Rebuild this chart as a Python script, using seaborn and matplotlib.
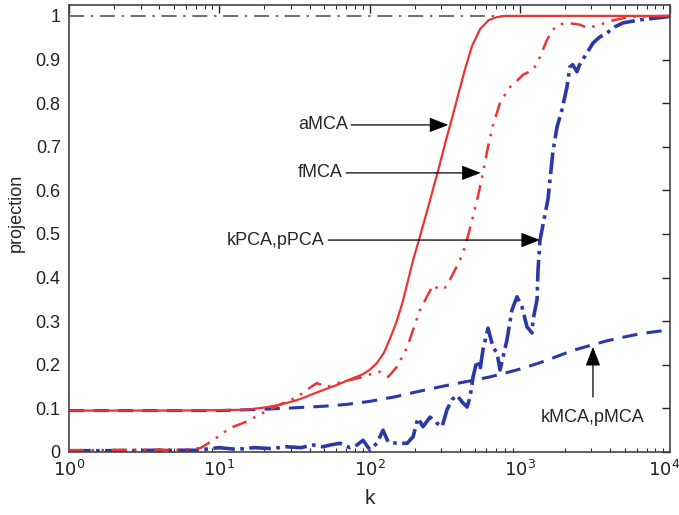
import numpy as np
import pandas as pd
import matplotlib
matplotlib.use("Agg")
import matplotlib.pyplot as plt
import matplotlib.transforms as mtransforms
import seaborn as sns
from matplotlib.ticker import LogLocator, FixedLocator, NullFormatter

# ---- data ----
amca_k = [1, 5, 10, 15, 20, 25, 30, 35, 42, 50, 60, 70, 80, 90, 100, 112, 125, 137, 150, 165, 178, 195, 217,
          245, 286, 320, 354, 390, 430, 480, 545, 620, 700, 800, 10000]
amca_v = [0.095, 0.095, 0.096, 0.097, 0.102, 0.108, 0.115, 0.122, 0.133, 0.143, 0.153, 0.163, 0.171, 0.178, 0.188,
          0.204, 0.228, 0.26, 0.295, 0.34, 0.385, 0.44, 0.495, 0.56, 0.645, 0.71, 0.765, 0.82, 0.875, 0.93, 0.97,
          0.99, 0.997, 1.0, 1.0]

fmca_k = [1, 3, 5.7, 7.5, 9.1, 11.8, 15.3, 19.6, 25, 33, 38, 44.6, 52, 61, 74, 90, 105, 117, 133, 152, 178, 195, 217,
          241, 265, 293, 317, 343, 370, 400, 432, 460, 489, 530, 569, 615, 664, 739, 800, 861, 950, 1050, 1225, 1364,
          1518, 1640, 1770, 2062, 2500, 2850, 3420, 4200, 5500, 10000]
fmca_v = [0.004, 0.005, 0.005, 0.009, 0.027, 0.055, 0.07, 0.09, 0.108, 0.126, 0.142, 0.158, 0.149, 0.158, 0.165, 0.172,
          0.18, 0.184, 0.172, 0.195, 0.24, 0.28, 0.326, 0.356, 0.383, 0.372, 0.376, 0.395, 0.417, 0.44, 0.47, 0.505,
          0.54, 0.59, 0.64, 0.7, 0.75, 0.80, 0.82, 0.837, 0.85, 0.865, 0.876, 0.906, 0.945, 0.965, 0.979, 0.984,
          0.98, 0.972, 0.98, 0.99, 0.998, 1.0]

kpca_k = [1, 2, 4, 7, 10, 13, 17, 22, 28, 35, 42, 49, 54.6, 63.6, 74, 82.6, 90.5, 100.7, 112, 123, 133, 152, 178, 195,
          210, 227, 253, 281, 304, 328, 354, 382, 413, 446, 467, 489, 519, 544, 569, 615, 664, 706, 739, 774, 822,
          888, 959, 1035, 1117, 1207, 1225, 1303, 1323, 1364, 1542, 1664, 1770, 1910, 2062, 2155, 2250, 2404,
          2500, 2800, 3075, 3420, 3810, 4300, 4870, 6330, 9600, 10000]
kpca_v = [0.003, 0.003, 0.004, 0.004, 0.01, 0.006, 0.01, 0.008, 0.012, 0.01, 0.016, 0.012, 0.016, 0.02, 0.01, 0.016,
          0.027, 0.005, 0.02, 0.05, 0.023, 0.02, 0.02, 0.035, 0.078, 0.058, 0.08, 0.066, 0.058, 0.097, 0.12, 0.13,
          0.115, 0.103, 0.126, 0.172, 0.21, 0.188, 0.234, 0.284, 0.24, 0.227, 0.188, 0.218, 0.257, 0.326, 0.356,
          0.333, 0.287, 0.273, 0.303, 0.349, 0.417, 0.486, 0.58, 0.69, 0.745, 0.785, 0.837, 0.883, 0.888, 0.872,
          0.888, 0.915, 0.938, 0.952, 0.961, 0.975, 0.984, 0.991, 0.998, 1.0]

kmca_k = [1, 10, 20, 30, 50, 70, 100, 150, 200, 300, 420, 630, 820, 1000, 1370, 1800, 2260, 3000, 3800, 5000, 6300,
          8000, 10000]
kmca_v = [0.095, 0.095, 0.098, 0.101, 0.105, 0.109, 0.116, 0.127, 0.137, 0.15, 0.16, 0.172, 0.182, 0.19, 0.205, 0.22,
          0.233, 0.245, 0.255, 0.264, 0.271, 0.276, 0.28]

ref_k = [1, 10000]
ref_v = [1.0, 1.0]

# annotations
ann_labels = ["aMCA", "fMCA", "kPCA,pPCA"]
ann_text_k = [33.4, 33.4, 11.3]
ann_tip_k = [335, 550, 1364]
ann_v = [0.75, 0.64, 0.486]

RED = "#ee3333"
BLUE = "#2b38a8"

sns.set_style("white")
plt.rcParams["font.family"] = ["Liberation Sans", "DejaVu Sans"]

fig = plt.figure(figsize=(6.79, 5.15), dpi=100)
ax = fig.add_axes([69 / 679, 1 - 452 / 515, (670 - 69) / 679, (452 - 5) / 515])

def draw(k, v, **kw):
    df = pd.DataFrame({"k": k, "v": v})
    sns.lineplot(data=df, x="k", y="v", ax=ax, estimator=None, sort=False, legend=False, **kw)

draw(ref_k, ref_v, color="#555555", lw=1.2, linestyle=(0, (9, 4, 1.5, 4)))
draw(kmca_k, kmca_v, color=BLUE, lw=2.2, linestyle=(0, (5, 3)))
draw(kpca_k, kpca_v, color=BLUE, lw=2.6, linestyle=(0, (6, 1.5, 1, 1.5)))
draw(fmca_k, fmca_v, color=RED, lw=1.8, linestyle=(0, (6, 3, 1, 3, 1, 3)))
draw(amca_k, amca_v, color=RED, lw=1.6, linestyle="-")

ax.set_xscale("log")
ax.set_xlim(1, 10000)
ax.set_ylim(0, 1.025)
ax.set_yticks(np.arange(0, 1.01, 0.1))
ax.set_yticklabels(["0", "0.1", "0.2", "0.3", "0.4", "0.5", "0.6", "0.7", "0.8", "0.9", "1"])
ax.xaxis.set_major_locator(FixedLocator([1, 10, 100, 1000, 10000]))
ax.set_xticklabels([r"$10^{0}$", r"$10^{1}$", r"$10^{2}$", r"$10^{3}$", r"$10^{4}$"])
ax.xaxis.set_minor_locator(LogLocator(base=10, subs=np.arange(2, 10), numticks=20))
ax.xaxis.set_minor_formatter(NullFormatter())

ax.tick_params(axis="both", which="major", direction="in", length=6, width=1, top=True, right=True,
               labelsize=13, colors="#222222", pad=6)
ax.tick_params(axis="x", which="minor", direction="in", length=3, width=0.8, top=True, bottom=True)
for s in ax.spines.values():
    s.set_color("#444444")
    s.set_linewidth(1.2)

# keep the last x tick label inside the canvas
last = ax.get_xticklabels()[-1]
last.set_transform(last.get_transform() + mtransforms.ScaledTranslation(-6 / 100, 0, fig.dpi_scale_trans))

ax.set_xlabel("k", fontsize=15, labelpad=6)
ax.set_ylabel("projection", fontsize=13)
ax.yaxis.set_label_coords(-0.073, 0.535)

arrow = dict(arrowstyle="-|>,head_length=0.9,head_width=0.35", color="black", lw=0.9, shrinkA=0, shrinkB=0)
for lab, tk, kk, vv in zip(ann_labels, ann_text_k, ann_tip_k, ann_v):
    ax.annotate(lab, xy=(kk, vv), xytext=(tk, vv), fontsize=13, ha="left", va="center",
                arrowprops=dict(arrow, relpos=(1.0, 0.5)))

ax.annotate("kMCA,pMCA", xy=(3071, 0.241), xytext=(3071, 0.08), fontsize=13, ha="center", va="center",
            arrowprops=dict(arrow, relpos=(0.5, 1.0), shrinkA=6))

fig.savefig("out.png", dpi=100)
